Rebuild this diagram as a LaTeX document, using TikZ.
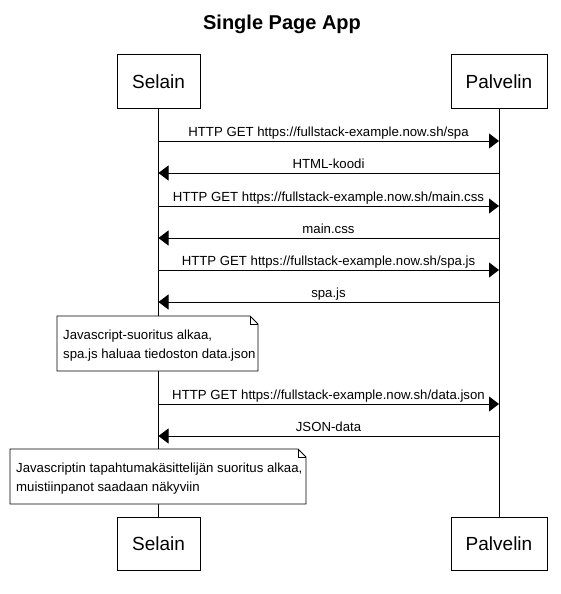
\documentclass[tikz,border=0pt]{standalone}
\usepackage{fontspec}
\setmainfont{Liberation Sans}
\usetikzlibrary{arrows.meta}
\tikzset{
  actor/.style={draw=black, line width=1pt, fill=white, minimum width=83pt, minimum height=53pt, inner sep=0pt, font=\fontsize{19}{22}\selectfont},
  actorP/.style={actor, minimum width=96pt},
  msg/.style={line width=0.9pt, -{Triangle[length=10pt,width=15pt]}},
  lbl/.style={font=\fontsize{13.2}{15}\selectfont, anchor=base, inner sep=0pt},
  notetxt/.style={font=\fontsize{13.2}{19}\selectfont, anchor=north west, align=left, inner sep=0pt},
  notebox/.style={draw=black, line width=0.8pt, fill=white},
  life/.style={line width=0.9pt}
}
\begin{document}
\begin{tikzpicture}[x=1pt,y=-1pt]
\useasboundingbox (0,0) rectangle (561,594);
\node[font=\fontsize{20}{24}\selectfont\bfseries] (title) at (282,24) {Single Page App};
% lifelines coordinates
\coordinate (s1) at (158.5,108);
\coordinate (s2) at (158.5,517);
\coordinate (p1) at (499,108);
\coordinate (p2) at (499,517);
\draw[life] (s1) -- (s2);
\draw[life] (p1) -- (p2);
% actors
\node[actor] (selT) at (158.5,81.5) {Selain};
\node[actorP] (palT) at (499,81.5) {Palvelin};
\node[actor] (selB) at (158.5,543.5) {Selain};
\node[actorP] (palB) at (499,543.5) {Palvelin};
% message coordinates
\foreach \n/\y in {1/141,2/173,3/206,4/238,5/270,6/302,7/404,8/436}{
  \coordinate (a\n) at (158.5,\y);
  \coordinate (b\n) at (499,\y);
}
\draw[msg] (a1) -- (b1);
\node[lbl] (l1) at (328.5,136) {HTTP GET https://fullstack-example.now.sh/spa};
\draw[msg] (b2) -- (a2);
\node[lbl] (l2) at (328.5,168) {HTML-koodi};
\draw[msg] (a3) -- (b3);
\node[lbl] (l3) at (328.5,201) {HTTP GET https://fullstack-example.now.sh/main.css};
\draw[msg] (b4) -- (a4);
\node[lbl] (l4) at (328.5,233) {main.css};
\draw[msg] (a5) -- (b5);
\node[lbl] (l5) at (328.5,265) {HTTP GET https://fullstack-example.now.sh/spa.js};
\draw[msg] (b6) -- (a6);
\node[lbl] (l6) at (328.5,297) {spa.js};
\draw[msg] (a7) -- (b7);
\node[lbl] (l7) at (328.5,399) {HTTP GET https://fullstack-example.now.sh/data.json};
\draw[msg] (b8) -- (a8);
\node[lbl] (l8) at (328.5,431) {JSON-data};
% notes
\draw[notebox] (57,316) -- (250,316) -- (258,324) -- (258,371) -- (57,371) -- cycle;
\draw[line width=0.6pt] (250,316) -- (250,324) -- (258,324);
\node[notetxt] (n1) at (63,330) {Javascript-suoritus alkaa,\\spa.js haluaa tiedoston data.json};
\draw[notebox] (10,449) -- (298,449) -- (306,457) -- (306,504) -- (10,504) -- cycle;
\draw[line width=0.6pt] (298,449) -- (298,457) -- (306,457);
\node[notetxt] (n2) at (16,463) {Javascriptin tapahtumakäsittelijän suoritus alkaa,\\muistiinpanot saadaan näkyviin};
\end{tikzpicture}
\end{document}
